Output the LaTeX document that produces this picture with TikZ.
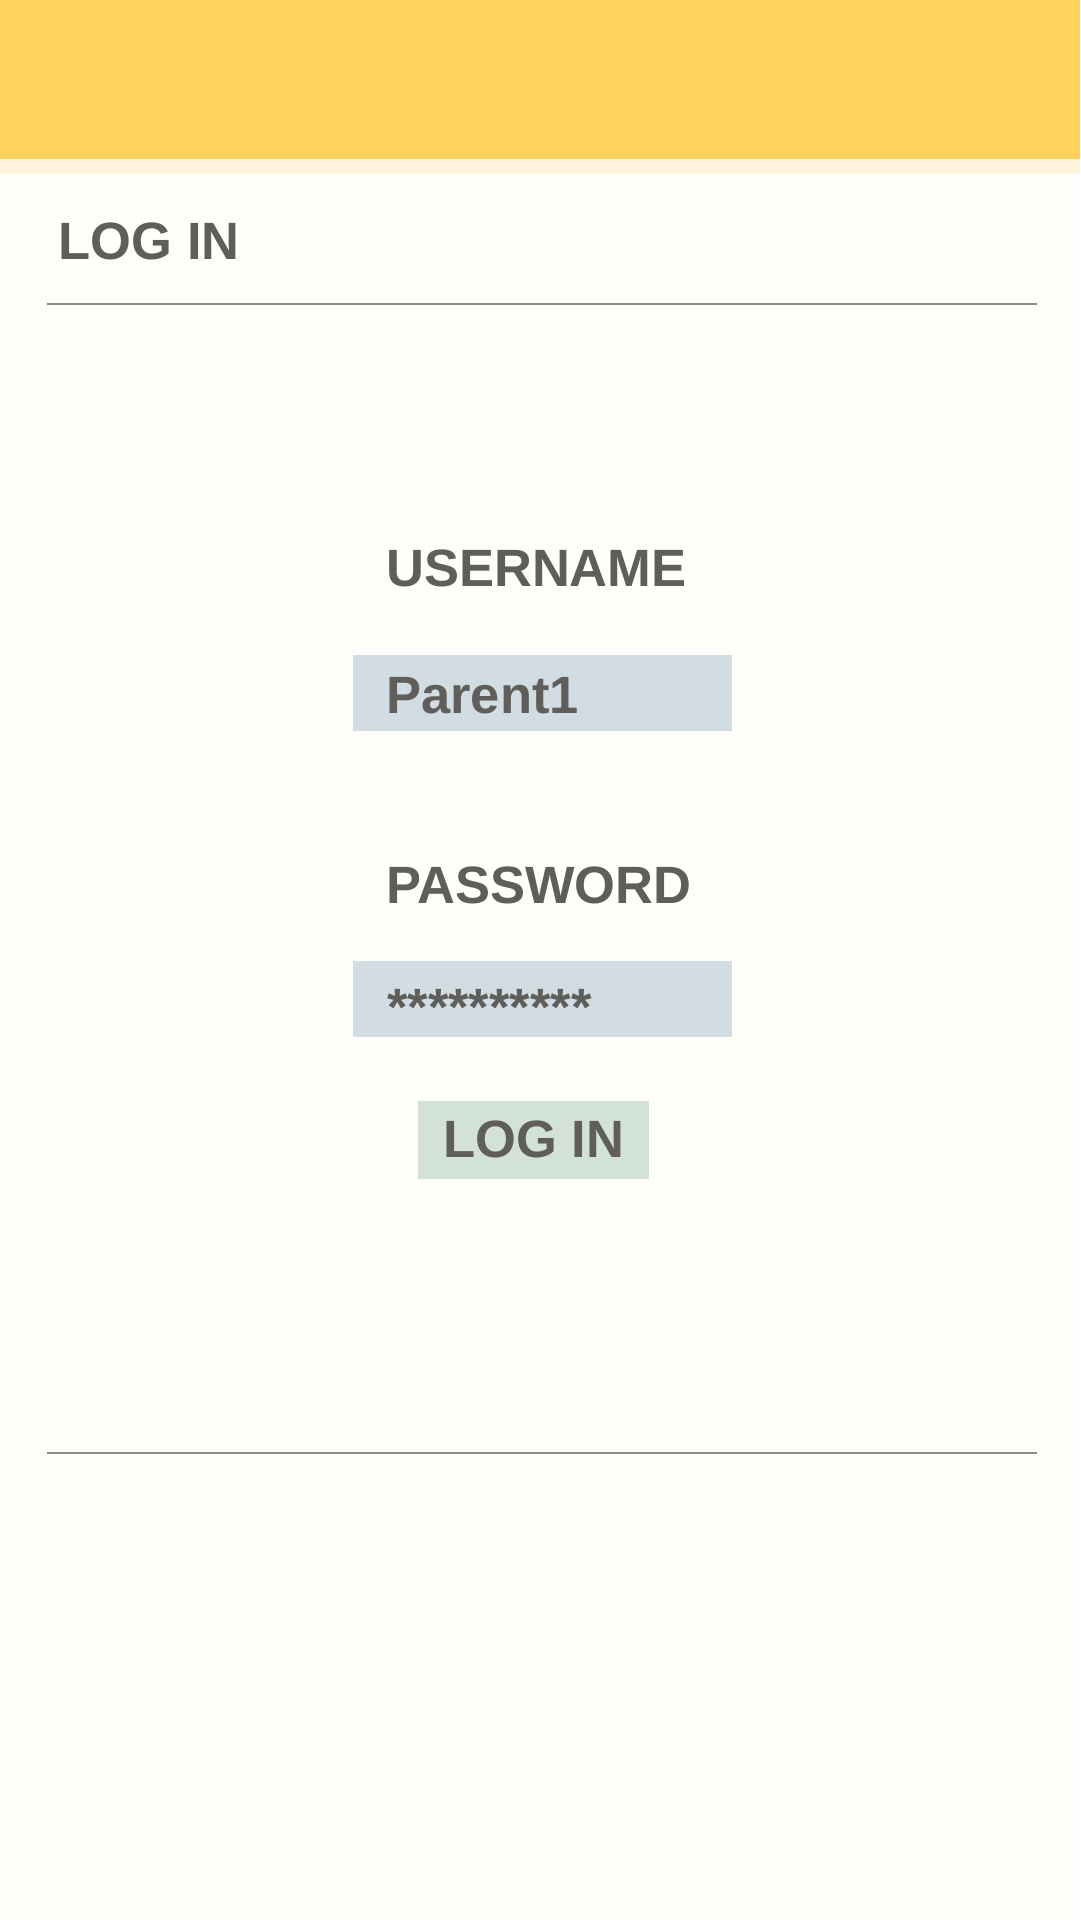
\documentclass[tikz,border=0pt]{standalone}
\usepackage{fontspec}
\setmainfont{Liberation Sans}
\definecolor{bgc}{HTML}{FFFEFA}
\definecolor{bandc}{HTML}{FFD25E}
\definecolor{palec}{HTML}{FFF5DC}
\definecolor{txtc}{HTML}{5F5E5A}
\definecolor{rulec}{HTML}{8E8C84}
\definecolor{fieldc}{HTML}{D1DDE2}
\definecolor{btnc}{HTML}{D3E2D6}
\tikzset{
  lbl/.style={anchor=base west, inner sep=0pt, text=txtc, font=\fontsize{52.5}{60}\selectfont\bfseries},
  val/.style={anchor=base west, inner sep=0pt, text=txtc, font=\fontsize{52.5}{60}\selectfont\bfseries},
  rulerline/.style={draw=rulec, line width=2pt},
  fieldbox/.style={fill=fieldc, draw=none},
  btnbox/.style={fill=btnc, draw=none}
}
\begin{document}
\begin{tikzpicture}[x=1pt,y=-1pt]
\useasboundingbox (0,0) rectangle (1080,1920);
\fill[bgc] (0,0) rectangle (1080,1920);
\fill[bandc] (0,0) rectangle (1080,159);
\fill[palec] (0,159) rectangle (1080,174);
% title
\node[lbl] (title) at (58.5,259) {LOG IN};
\coordinate (r1a) at (47,304);
\coordinate (r1b) at (1037,304);
\draw[rulerline] (r1a) -- (r1b);
% username
\node[lbl] (ulabel) at (386,586) {USERNAME};
\fill[fieldbox] (353,655) rectangle (732,731);
\node[val] (uval) at (386,713) {Parent1};
% password
\node[lbl] (plabel) at (386,903) {PASSWORD};
\fill[fieldbox] (353,961) rectangle (732,1037);
\node[val] (pval) at (387,1025) {**********};
% button
\fill[btnbox] (418,1101) rectangle (649,1179);
\node[lbl] (btn) at (443,1157) {LOG IN};
% bottom rule
\coordinate (r2a) at (47,1453);
\coordinate (r2b) at (1037,1453);
\draw[rulerline] (r2a) -- (r2b);
\end{tikzpicture}
\end{document}
